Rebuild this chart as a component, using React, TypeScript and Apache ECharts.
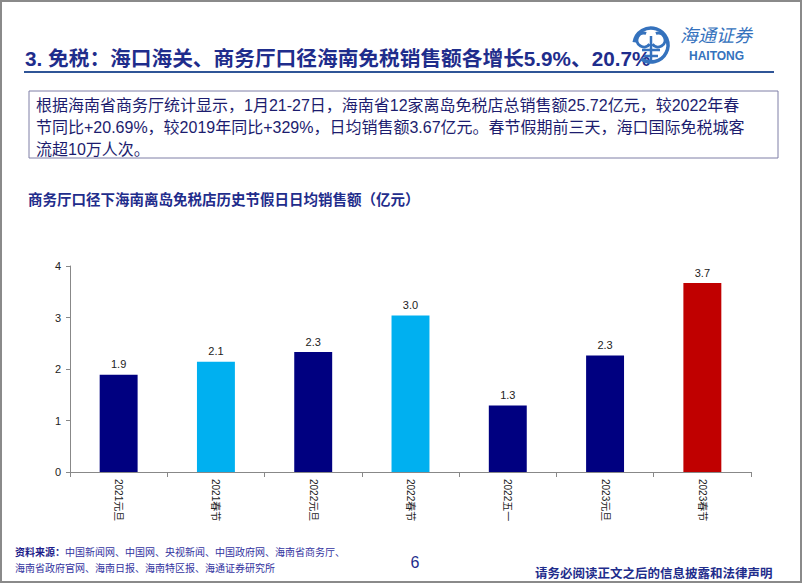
import React, { useEffect, useRef } from "react";
import * as echarts from "echarts";

const categories = ["2021元旦", "2021春节", "2022元旦", "2022春节", "2022五一", "2023元旦", "2023春节"];
const values = [1.89, 2.14, 2.33, 3.04, 1.29, 2.26, 3.67];
const barColors = ["#000080", "#00B0F0", "#000080", "#00B0F0", "#000080", "#000080", "#C00000"];
const yMin = 0;
const yMax = 4;
const yInterval = 1;

const pageTitle = "3. 免税：海口海关、商务厅口径海南免税销售额各增长5.9%、20.7%";
const bodyLines = [
  "根据海南省商务厅统计显示，1月21-27日，海南省12家离岛免税店总销售额25.72亿元，较2022年春",
  "节同比+20.69%，较2019年同比+329%，日均销售额3.67亿元。春节假期前三天，海口国际免税城客",
  "流超10万人次。",
];
const chartTitle = "商务厅口径下海南离岛免税店历史节假日日均销售额（亿元）";
const sourceLabel = "资料来源：";
const sourceLine1 = "中国新闻网、中国网、央视新闻、中国政府网、海南省商务厅、";
const sourceLine2 = "海南省政府官网、海南日报、海南特区报、海通证券研究所";
const pageNumber = "6";
const disclaimer = "请务必阅读正文之后的信息披露和法律声明";

const FONT = "'Liberation Sans', Arial, 'Noto Sans CJK SC', sans-serif";
const CJK = "'Noto Sans CJK SC', 'Liberation Sans', sans-serif";

export default function App() {
  const ref = useRef<HTMLDivElement>(null);
  useEffect(() => {
    if (!ref.current) return;
    const chart = echarts.init(ref.current, undefined, { renderer: "svg" });
    const logoColor = "#3572bd";
    const graphic: any[] = [
      { type: "rect", shape: { x: 1, y: 1, width: 800, height: 581 }, style: { fill: "none", stroke: "#8a8a8a", lineWidth: 2 }, silent: true },
      {
        type: "text",
        style: { x: 25, y: 58, text: pageTitle, fill: "#1f2d8c", font: `bold 20.7px ${FONT}`, verticalAlign: "middle" },
      },
      { type: "line", shape: { x1: 24, y1: 72, x2: 774, y2: 72 }, style: { stroke: "#2f5597", lineWidth: 2 } },
      // logo
      { type: "arc", shape: { cx: 651, cy: 45, r: 17, startAngle: -Math.PI * 0.95, endAngle: Math.PI * 0.7 }, style: { stroke: logoColor, lineWidth: 3.5, fill: "none" } },
      { type: "arc", shape: { cx: 644, cy: 40, r: 7, startAngle: Math.PI * 0.2, endAngle: Math.PI * 1.6 }, style: { stroke: logoColor, lineWidth: 3, fill: "none" } },
      { type: "arc", shape: { cx: 658, cy: 40, r: 7, startAngle: -Math.PI * 0.6, endAngle: Math.PI * 0.8 }, style: { stroke: logoColor, lineWidth: 3, fill: "none" } },
      { type: "line", shape: { x1: 651, y1: 36, x2: 651, y2: 62 }, style: { stroke: logoColor, lineWidth: 2.5 } },
      { type: "line", shape: { x1: 642, y1: 50, x2: 660, y2: 50 }, style: { stroke: logoColor, lineWidth: 2.5 } },
      { type: "line", shape: { x1: 644, y1: 56, x2: 658, y2: 56 }, style: { stroke: logoColor, lineWidth: 2.5 } },
      {
        type: "text",
        style: { x: 680, y: 34, text: "海通证券", fill: logoColor, font: `italic 18px ${CJK}`, verticalAlign: "middle" },
      },
      {
        type: "text",
        style: { x: 689, y: 56, text: "HAITONG", fill: logoColor, font: `bold 12px ${FONT}`, verticalAlign: "middle" },
      },
      // text box
      { type: "rect", shape: { x: 29, y: 91, width: 749, height: 67 }, style: { fill: "#fff", stroke: "#7f7fa6", lineWidth: 1 } },
      ...bodyLines.map((t, i) => ({
        type: "text",
        style: { x: 36, y: 105 + i * 22, text: t, fill: "#1c1c6e", font: `16px ${FONT}`, verticalAlign: "middle" },
      })),
      {
        type: "text",
        style: { x: 28, y: 198, text: chartTitle, fill: "#1f2d8c", font: `bold 14.5px ${CJK}`, verticalAlign: "middle" },
      },
      {
        type: "text",
        style: { x: 15, y: 551, text: sourceLabel, fill: "#1c1c8a", font: `bold 10px ${CJK}`, verticalAlign: "middle" },
      },
      {
        type: "text",
        style: { x: 65, y: 551, text: sourceLine1, fill: "#3333a0", font: `10px ${CJK}`, verticalAlign: "middle" },
      },
      {
        type: "text",
        style: { x: 15, y: 567, text: sourceLine2, fill: "#3333a0", font: `10px ${CJK}`, verticalAlign: "middle" },
      },
      {
        type: "text",
        style: { x: 415, y: 562, text: pageNumber, fill: "#1f2d8c", font: `16px ${FONT}`, align: "center", verticalAlign: "middle" },
      },
      {
        type: "text",
        style: { x: 535, y: 572, text: disclaimer, fill: "#1f2d8c", font: `bold 12.5px ${CJK}`, verticalAlign: "middle" },
      },
    ];

    chart.setOption({
      animation: false,
      backgroundColor: "#ffffff",
      grid: { left: 70, right: 51, top: 266, bottom: 111 },
      xAxis: {
        type: "category",
        data: categories,
        axisLine: { lineStyle: { color: "#888888", width: 1 } },
        axisTick: { show: true, length: 5, lineStyle: { color: "#888888" } },
        axisLabel: { rotate: -90, fontSize: 10, color: "#222", fontFamily: FONT, margin: 7 },
      },
      yAxis: {
        type: "value",
        min: yMin,
        max: yMax,
        interval: yInterval,
        axisLine: { show: true, lineStyle: { color: "#888888", width: 1 } },
        axisTick: { show: true, length: 4, lineStyle: { color: "#888888" } },
        splitLine: { show: false },
        axisLabel: { fontSize: 11, color: "#222", fontFamily: FONT, margin: 9 },
      },
      series: [
        {
          type: "bar",
          data: values.map((v, i) => ({ value: v, itemStyle: { color: barColors[i] } })),
          barWidth: "39%",
          label: {
            show: true,
            position: "top",
            distance: 5,
            fontSize: 11,
            color: "#222",
            fontFamily: FONT,
            formatter: (p: any) => Number(p.value).toFixed(1),
          },
        },
      ],
      graphic,
    });
    return () => chart.dispose();
  }, []);
  return <div ref={ref} style={{ position: "absolute", left: 0, top: 0, width: 802, height: 583, background: "#fff" }} />;
}
